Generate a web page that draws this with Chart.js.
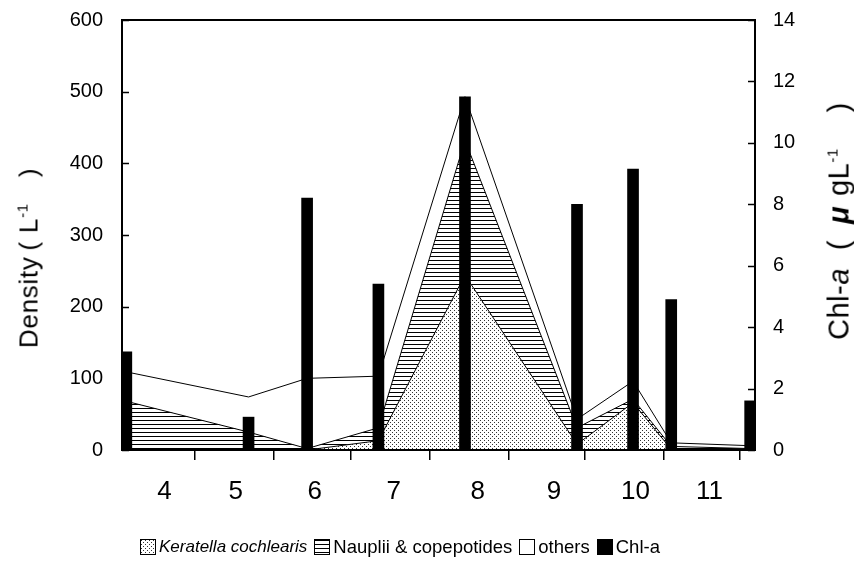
<!DOCTYPE html>
<html>
<head>
<meta charset="utf-8">
<script src="https://cdn.jsdelivr.net/npm/chart.js@4.4.1/dist/chart.umd.min.js"></script>
<style>
    body { margin: 0; background: #fff; }
    #wrap { position: relative; width: 854px; height: 574px; font-family: "Liberation Sans", Arial, sans-serif; color: #000; }
    .ytitle { position: absolute; white-space: nowrap; transform: translate(-50%, -50%) rotate(-90deg); }
    .ytitle sup { font-size: 15px; }
    #legend { position: absolute; left: 140px; top: 536px; display: flex; align-items: center; font-size: 18.5px; white-space: nowrap; }
    #legend .item { display: flex; align-items: center; margin-right: 7px; }
    #legend canvas { width: 16px; height: 16px; box-sizing: border-box; border: 1px solid #000; margin-right: 3px; }
</style>
</head>
<body>
<div id="wrap">
    <canvas id="chart" width="854" height="574"></canvas>
    <div class="ytitle" style="left: 29px; top: 258px; font-size: 26px; letter-spacing: 0.7px;">Density<span style="margin-left:6px">(</span><span style="margin-left:8px">L</span><sup>-1</sup><span style="margin-left:26px">)</span></div>
    <div class="ytitle" style="left: 839px; top: 221px; font-size: 29px; letter-spacing: 0.5px;">Chl-<i>a</i><span style="margin-left:18px">(</span><b><i style="margin-left:16px">μ</i></b><span style="margin-left:10px">gL</span><sup>-1</sup><span style="margin-left:36px">)</span></div>
    <div id="legend"></div>
</div>
<script>
// sampling days (day of year) and values
const sampleDay = [94, 142, 165, 193, 227, 271, 293, 308, 339];
const keratella = [0, 0, 0, 13, 244, 8, 66, 1, 0];
const nauplii = [68, 25, 2, 18, 188, 23, 5, 4, 2];
const others = [41, 49, 98, 72, 61, 12, 25, 5, 4];
const chlA = [3.2, 1.07, 8.2, 5.4, 11.5, 8.0, 9.15, 4.9, 1.6];

// month boundaries (1st of May ... 1st of Dec) and month label positions
const monthStart = [121, 152, 182, 213, 244, 274, 305, 335];
const labelDay = [109, 137, 168, 199, 232, 262, 294, 323];
const monthLabels = ['4', '5', '6', '7', '8', '9', '10', '11'];

const densityTicks = [0, 100, 200, 300, 400, 500, 600];
const chlTicks = [0, 2, 4, 6, 8, 10, 12, 14];

const FONT = '"Liberation Sans", Arial, sans-serif';

function makeTile(kind) {
    const c = document.createElement('canvas');
    c.width = 4; c.height = 4;
    const g = c.getContext('2d');
    g.fillStyle = '#fff';
    g.fillRect(0, 0, 4, 4);
    if (kind === 'dots') {
        g.fillStyle = '#333';
        g.fillRect(0, 0, 1, 1);
        g.fillRect(2, 2, 1, 1);
    } else if (kind === 'lines') {
        g.fillStyle = '#000';
        g.fillRect(0, 0, 4, 1);
    } else if (kind === 'black') {
        g.fillStyle = '#000';
        g.fillRect(0, 0, 4, 4);
    }
    return c;
}

const ctx = document.getElementById('chart').getContext('2d');
const dotFill = ctx.createPattern(makeTile('dots'), 'repeat');
const lineFill = ctx.createPattern(makeTile('lines'), 'repeat');

const pts = arr => arr.map((v, i) => ({ x: sampleDay[i], y: v }));

// frame and inner tick marks of both y axes
const framePlugin = {
    id: 'frame',
    afterDraw(chart) {
        const { ctx, chartArea: a, scales } = chart;
        ctx.save();
        ctx.strokeStyle = '#000';
        ctx.lineWidth = 1.5;
        ctx.beginPath();
        densityTicks.forEach(v => {
            const py = Math.round(scales.y.getPixelForValue(v)) + 0.5;
            ctx.moveTo(a.left, py); ctx.lineTo(a.left + 7, py);
        });
        chlTicks.forEach(v => {
            const py = Math.round(scales.y1.getPixelForValue(v)) + 0.5;
            ctx.moveTo(a.right - 7, py); ctx.lineTo(a.right, py);
        });
        ctx.stroke();
        ctx.lineWidth = 2;
        ctx.strokeRect(a.left, a.top, a.right - a.left, a.bottom - a.top);
        ctx.restore();
    }
};

// invisible tick marks give the label gap without padding the top of the chart
const hiddenTickGrid = len => ({ display: true, drawOnChartArea: false, drawTicks: true, tickLength: len, color: 'rgba(0,0,0,0)' });

new Chart(ctx, {
    type: 'line',
    data: {
        datasets: [
            {
                type: 'bar',
                label: 'Chl-a',
                data: pts(chlA),
                yAxisID: 'y1',
                xAxisID: 'x',
                backgroundColor: '#000',
                borderWidth: 0,
                barThickness: 11,
                order: 0
            },
            {
                label: 'Keratella cochlearis',
                data: pts(keratella),
                backgroundColor: dotFill,
                borderColor: '#000',
                borderWidth: 1,
                fill: 'origin',
                pointRadius: 0,
                tension: 0,
                order: 1
            },
            {
                label: 'Nauplii & copepotides',
                data: pts(nauplii),
                backgroundColor: lineFill,
                borderColor: '#000',
                borderWidth: 1,
                fill: '-1',
                pointRadius: 0,
                tension: 0,
                order: 1
            },
            {
                label: 'others',
                data: pts(others),
                backgroundColor: '#fff',
                borderColor: '#000',
                borderWidth: 1,
                fill: '-1',
                pointRadius: 0,
                tension: 0,
                order: 1
            }
        ]
    },
    options: {
        responsive: false,
        animation: false,
        devicePixelRatio: 1,
        layout: { padding: { top: 20, bottom: 64, left: 0, right: 0 } },
        plugins: {
            legend: { display: false },
            tooltip: { enabled: false }
        },
        scales: {
            x: {
                type: 'linear',
                position: 'bottom',
                weight: 0,
                min: 92.3,
                max: 340.9,
                offset: false,
                afterBuildTicks: s => { s.ticks = monthStart.map(v => ({ value: v })); },
                afterFit: s => { s.height = 10; },
                ticks: { display: false },
                grid: { offset: false, drawOnChartArea: false, drawTicks: true, tickLength: 10, color: '#000', lineWidth: 1.5 },
                border: { display: false }
            },
            xl: {
                type: 'linear',
                position: 'bottom',
                weight: 1,
                min: 92.3,
                max: 340.9,
                offset: false,
                afterBuildTicks: s => { s.ticks = labelDay.map(v => ({ value: v })); },
                afterFit: s => { s.height = 50; },
                ticks: {
                    padding: 8,
                    color: '#000',
                    font: { family: FONT, size: 26 },
                    maxRotation: 0,
                    autoSkip: false,
                    callback: (v, i) => monthLabels[i]
                },
                grid: { display: false, offset: false },
                border: { display: false }
            },
            y: {
                position: 'left',
                stacked: true,
                min: 0,
                max: 600,
                afterBuildTicks: s => { s.ticks = densityTicks.map(v => ({ value: v })); },
                afterFit: s => { s.width = 122; },
                ticks: { padding: 0, color: '#000', font: { family: FONT, size: 20 } },
                grid: hiddenTickGrid(19),
                border: { display: false }
            },
            y1: {
                position: 'right',
                min: 0,
                max: 14,
                afterBuildTicks: s => { s.ticks = chlTicks.map(v => ({ value: v })); },
                afterFit: s => { s.width = 99; },
                ticks: { padding: 0, color: '#000', font: { family: FONT, size: 20 } },
                grid: hiddenTickGrid(18),
                border: { display: false }
            }
        }
    },
    plugins: [framePlugin]
});

// legend built from the same fills
const legendItems = [
    { text: 'Keratella cochlearis', tile: 'dots', italic: true },
    { text: 'Nauplii & copepotides', tile: 'lines' },
    { text: 'others', tile: 'white' },
    { text: 'Chl-a', tile: 'black' }
];
const legend = document.getElementById('legend');
legendItems.forEach(item => {
    const el = document.createElement('div');
    el.className = 'item';
    const sw = document.createElement('canvas');
    sw.width = 14; sw.height = 14;
    const g = sw.getContext('2d');
    g.fillStyle = g.createPattern(makeTile(item.tile), 'repeat');
    g.fillRect(0, 0, 14, 14);
    const label = document.createElement('span');
    label.textContent = item.text;
    if (item.italic) { label.style.fontStyle = 'italic'; label.style.fontSize = '17px'; }
    el.appendChild(sw);
    el.appendChild(label);
    legend.appendChild(el);
});
</script>
</body>
</html>
